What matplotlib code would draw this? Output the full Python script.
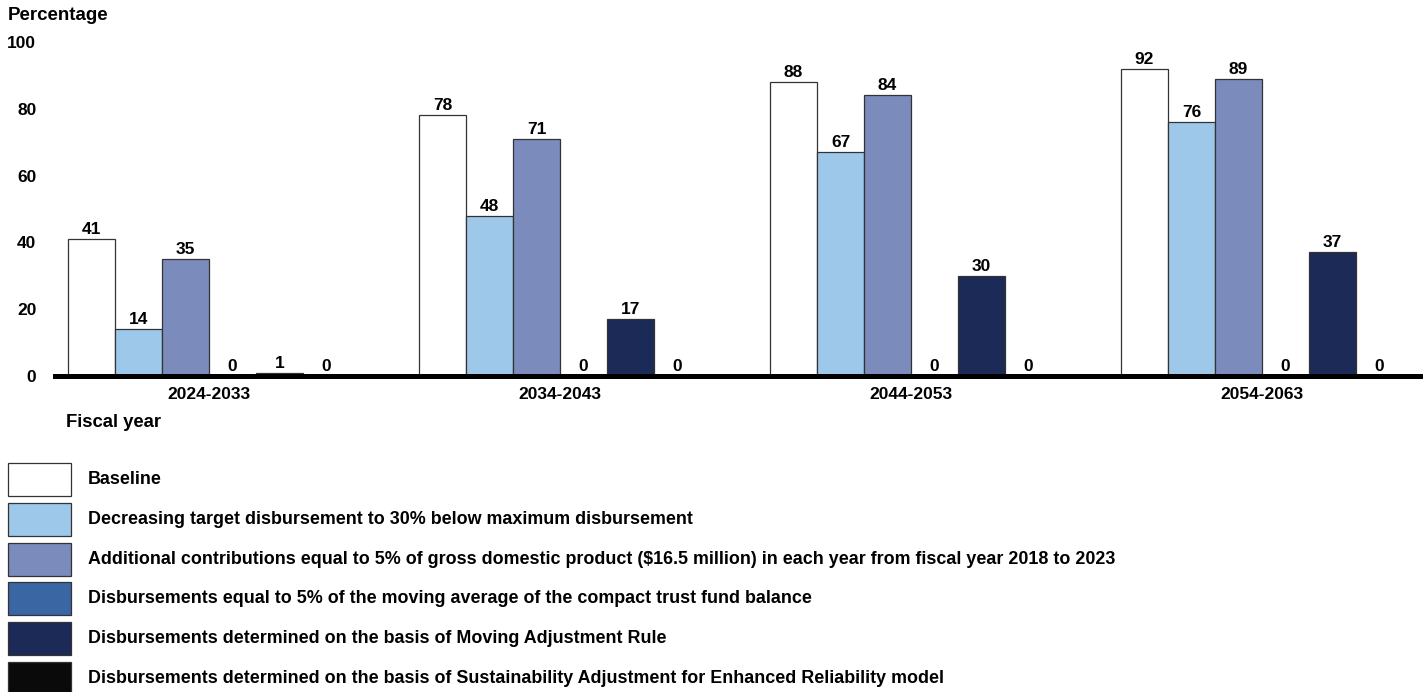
import matplotlib
matplotlib.use("Agg")
import matplotlib.pyplot as plt
import numpy as np
from matplotlib.patches import Rectangle

plt.rcParams['font.family'] = ['Liberation Sans', 'DejaVu Sans']
plt.rcParams['font.weight'] = 'bold'

periods = ["2024-2033", "2034-2043", "2044-2053", "2054-2063"]
series_names = [
    "Baseline",
    "Decreasing target disbursement to 30% below maximum disbursement",
    "Additional contributions equal to 5% of gross domestic product ($16.5 million) in each year from fiscal year 2018 to 2023",
    "Disbursements equal to 5% of the moving average of the compact trust fund balance",
    "Disbursements determined on the basis of Moving Adjustment Rule",
    "Disbursements determined on the basis of Sustainability Adjustment for Enhanced Reliability model",
]
baseline = [41, 78, 88, 92]
decreasing_target = [14, 48, 67, 76]
additional_contrib = [35, 71, 84, 89]
moving_average = [0, 0, 0, 0]
moving_adjustment = [1, 17, 30, 37]
sustainability = [0, 0, 0, 0]
values = [baseline, decreasing_target, additional_contrib, moving_average, moving_adjustment, sustainability]
colors = ["#ffffff", "#9dc8ea", "#7a8bbc", "#3a66a4", "#1b2a56", "#0a0a0a"]
yticks = [0, 20, 40, 60, 80, 100]

W, H = 1428, 692
fig = plt.figure(figsize=(W/100, H/100), dpi=100)
ax = fig.add_axes([55/W, 1-376/H, (1420-55)/W, (376-42)/H])

x = np.arange(len(periods))
w = 47/351
for i, (vals, c) in enumerate(zip(values, colors)):
    pos = x + (i - 2.5) * w
    ax.bar(pos, vals, width=w, color=c, edgecolor="#333333", linewidth=0.9, zorder=2)
    for p, v in zip(pos, vals):
        ax.text(p, v + 0.6, f"{v}", ha="center", va="bottom", fontsize=12.5, fontweight="bold")

ax.set_xlim(-0.439, 3 + 0.45)
ax.set_ylim(0, 100)
ax.set_yticks(yticks)
ax.set_yticklabels([str(t) for t in yticks], fontsize=12.5, fontweight="bold")
ax.set_xticks(x)
ax.set_xticklabels(periods, fontsize=12.5, fontweight="bold")
ax.tick_params(axis="y", length=0, pad=13.5)
ax.tick_params(axis="x", length=0, pad=8)
for s in ["top", "right", "left"]:
    ax.spines[s].set_visible(False)
ax.spines["bottom"].set_linewidth(3.6)
ax.spines["bottom"].set_zorder(5)

fig.text(8/W, 1-16/H, "Percentage", fontsize=13.5, fontweight="bold", ha="left", va="center")
fig.text(66/W, 1-423/H, "Fiscal year", fontsize=13.3, fontweight="bold", ha="left", va="center")

# legend drawn manually in figure coordinates
for k, (name, c) in enumerate(zip(series_names, colors)):
    top = 463 + k * 39.8
    fig.add_artist(Rectangle((8/W, 1-(top+33)/H), 63/W, 33/H, transform=fig.transFigure,
                             facecolor=c, edgecolor="#333333", linewidth=0.9))
    fig.text(88/W, 1-(top+16.5)/H, name, fontsize=12.9, fontweight="bold", ha="left", va="center")

fig.savefig("out.png", dpi=100)
